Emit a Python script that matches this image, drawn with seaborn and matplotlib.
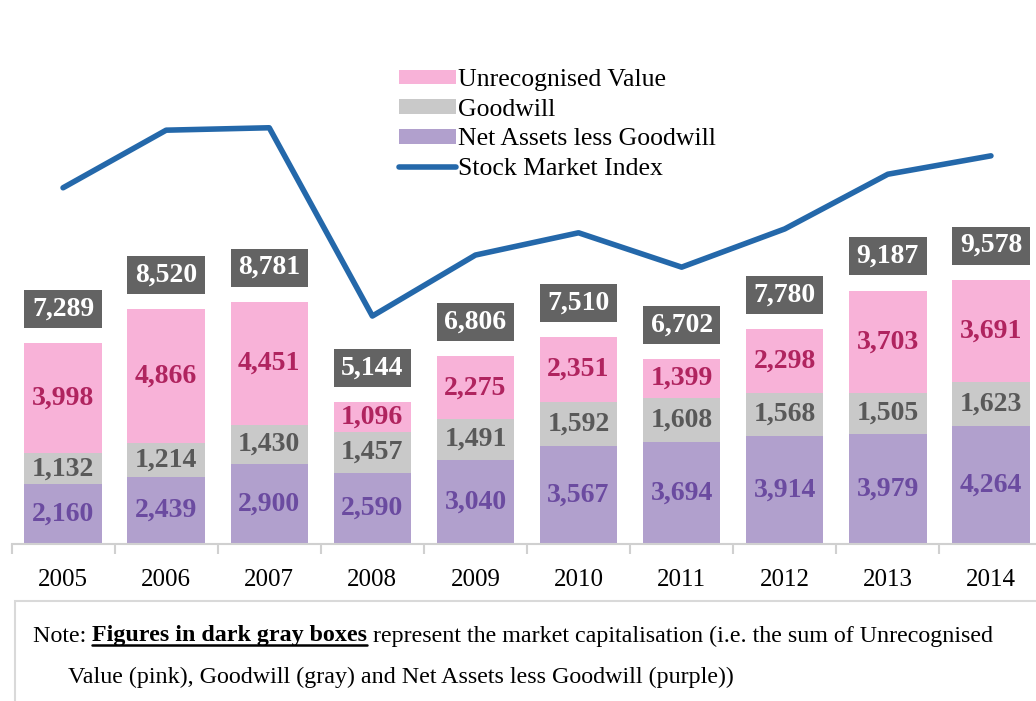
import matplotlib
matplotlib.use("Agg")
import matplotlib.pyplot as plt
import seaborn as sns
import numpy as np
import pandas as pd
from matplotlib.patches import Patch, Rectangle
from matplotlib.lines import Line2D

# ---- data ----
years = ["2005", "2006", "2007", "2008", "2009", "2010", "2011", "2012", "2013", "2014"]
unrecognised = [3998, 4866, 4451, 1096, 2275, 2351, 1399, 2298, 3703, 3691]
goodwill = [1132, 1214, 1430, 1457, 1491, 1592, 1608, 1568, 1505, 1623]
net_assets = [2160, 2439, 2900, 2590, 3040, 3567, 3694, 3914, 3979, 4264]
market_cap = [7289, 8520, 8781, 5144, 6806, 7510, 6702, 7780, 9187, 9578]
stock_index = [73.6, 85.5, 86.0, 47.1, 59.7, 64.3, 57.2, 65.1, 76.4, 80.2]
series_labels = ["Unrecognised Value", "Goodwill", "Net Assets less Goodwill", "Stock Market Index"]

PINK = "#F8B2D8"
GRAY = "#C9C9C9"
PURPLE = "#B1A0CD"
BLUE = "#2468AA"
BOXGRAY = "#636363"
PINK_TXT = "#B0245F"
GRAY_TXT = "#595959"
PURPLE_TXT = "#6B4BA0"

sns.set_theme(style="white")
plt.rcParams["font.family"] = ["Liberation Serif", "DejaVu Serif"]
plt.rcParams["text.color"] = "black"
plt.rcParams["xtick.color"] = "black"

fig = plt.figure(figsize=(10.36, 7.01), dpi=100)
W, H = 1036, 701
ax = fig.add_axes([11.5 / W, (H - 544) / H, 1031 / W, 484 / H])

df = pd.DataFrame({"year": years, "u": unrecognised, "g": goodwill, "n": net_assets})
df["top"] = df["u"] + df["g"] + df["n"]
df["mid"] = df["g"] + df["n"]

bw = 0.75
sns.barplot(data=df, x="year", y="top", color=PINK, width=bw, saturation=1, errorbar=None, ax=ax, linewidth=0)
sns.barplot(data=df, x="year", y="mid", color=GRAY, width=bw, saturation=1, errorbar=None, ax=ax, linewidth=0)
sns.barplot(data=df, x="year", y="n", color=PURPLE, width=bw, saturation=1, errorbar=None, ax=ax, linewidth=0)

ymax = 17550
ax.set_ylim(0, ymax)
ax.set_xlim(-0.5, 9.5)
ax.set_xlabel("")
ax.set_ylabel("")
ax.set_yticks([])

lab_fs = 20
for i in range(len(years)):
    n, g, u = net_assets[i], goodwill[i], unrecognised[i]
    ax.text(i, n / 2, f"{n:,}", ha="center", va="center", fontsize=lab_fs, fontweight="bold", color=PURPLE_TXT)
    ax.text(i, n + g / 2, f"{g:,}", ha="center", va="center", fontsize=lab_fs, fontweight="bold", color=GRAY_TXT)
    ax.text(i, n + g + u / 2, f"{u:,}", ha="center", va="center", fontsize=lab_fs, fontweight="bold", color=PINK_TXT)

# market-cap boxes above bars
gap = 550
box_h = 1380
tops = np.array(market_cap)
ax.bar(np.arange(len(years)), [box_h] * len(years), bottom=tops + gap, width=bw, color=BOXGRAY, linewidth=0)
for i, v in enumerate(market_cap):
    ax.text(i, v + gap + box_h / 2, f"{v:,}", ha="center", va="center", fontsize=lab_fs, fontweight="bold", color="white")

# spines / ticks
for s in ["top", "left", "right"]:
    ax.spines[s].set_visible(False)
ax.spines["bottom"].set_color("#D0D0D0")
ax.spines["bottom"].set_linewidth(1.5)
ax.set_xticks(np.arange(len(years)))
ax.set_xticklabels(years, fontsize=18, color="black")
ax.set_xticks(np.arange(-0.5, 10, 1), minor=True)
ax.tick_params(axis="x", which="major", length=0, pad=18, labelcolor="black")
ax.tick_params(axis="x", which="minor", length=7, width=1.5, color="#D0D0D0", direction="out", bottom=True)

# stock market index on hidden twin axis
ax2 = ax.twinx()
sns.lineplot(x=np.arange(len(years)), y=stock_index, ax=ax2, color=BLUE, linewidth=4, solid_capstyle="round")
ax2.set_ylim(0, 100)
ax2.set_xlim(-0.5, 9.5)
ax2.axis("off")

# legend
handles = [
    Patch(facecolor=PINK, edgecolor="none"),
    Patch(facecolor=GRAY, edgecolor="none"),
    Patch(facecolor=PURPLE, edgecolor="none"),
    Line2D([0], [0], color=BLUE, linewidth=4, solid_capstyle="round"),
]
leg = fig.legend(handles, series_labels, loc="upper left", bbox_to_anchor=(399 / W, 1 - 69 / H),
                 frameon=False, fontsize=18.5, handlelength=2.2, handleheight=0.5, handletextpad=0.08,
                 labelspacing=0.3, borderpad=0, borderaxespad=0)
for t in leg.get_texts():
    t.set_color("black")

# note box
fig.patches.append(Rectangle((15 / W, -0.1), 1.1, (H - 601) / H + 0.1, transform=fig.transFigure,
                             facecolor="none", edgecolor="#D9D9D9", linewidth=1.5))

note_fs = 17.3
y1 = 1 - 636 / H
t1 = fig.text(33 / W, y1, "Note: ", fontsize=note_fs, va="center", ha="left")
fig.canvas.draw()
r = fig.canvas.get_renderer()
bb = t1.get_window_extent(r)
t2 = fig.text(bb.x1 / W, y1, "Figures in dark gray boxes", fontsize=note_fs, va="center", ha="left", fontweight="bold")
bb2 = t2.get_window_extent(r)
fig.add_artist(Line2D([bb2.x0 / W, bb2.x1 / W], [(bb2.y0 + 2) / H, (bb2.y0 + 2) / H],
                      transform=fig.transFigure, color="black", linewidth=1.8))
fig.text(bb2.x1 / W, y1, " represent the market capitalisation (i.e. the sum of Unrecognised",
         fontsize=note_fs, va="center", ha="left")
fig.text(68 / W, 1 - 677 / H, "Value (pink), Goodwill (gray) and Net Assets less Goodwill (purple))",
         fontsize=note_fs, va="center", ha="left")

fig.savefig("out.png", dpi=100)
